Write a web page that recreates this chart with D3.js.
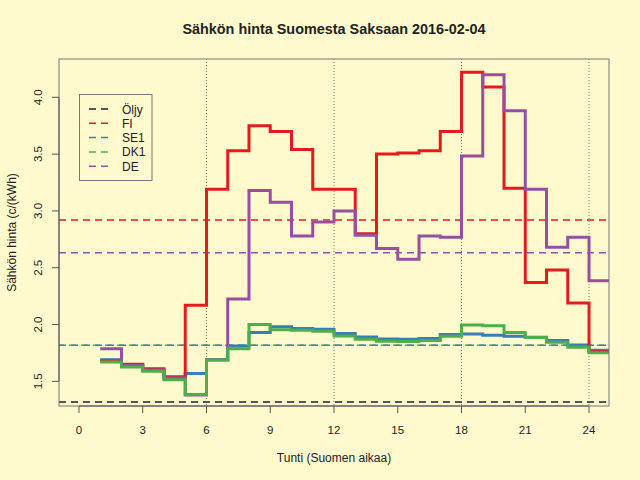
<!DOCTYPE html>
<html>
<head>
<meta charset="utf-8">
<script src="https://cdn.jsdelivr.net/npm/d3@7"></script>
<style>
  body { margin: 0; background: #FFFACD; }
  text { font-family: "Liberation Sans", Arial, sans-serif; fill: #222; }
</style>
</head>
<body>
<svg id="chart" width="640" height="480"></svg>
<script>
// hours 1..24, last value is repeated to hour 25 so the final step reaches the edge
const hours = d3.range(1, 26);
const fi  = [1.68, 1.65, 1.61, 1.54, 2.17, 3.19, 3.53, 3.75, 3.70, 3.54, 3.19, 3.19,
             2.80, 3.50, 3.51, 3.53, 3.70, 4.22, 4.09, 3.20, 2.37, 2.48, 2.19, 1.76];
const se1 = [1.69, 1.64, 1.60, 1.53, 1.57, 1.69, 1.81, 1.93, 1.98, 1.965, 1.958, 1.92,
             1.89, 1.872, 1.87, 1.878, 1.913, 1.916, 1.905, 1.896, 1.887, 1.86, 1.82, 1.773];
const dk1 = [1.67, 1.626, 1.588, 1.514, 1.385, 1.687, 1.787, 2.00, 1.955, 1.95, 1.94, 1.90,
             1.87, 1.852, 1.85, 1.86, 1.896, 1.995, 1.99, 1.93, 1.885, 1.843, 1.80, 1.752];
const de  = [1.787, 1.64, 1.60, 1.53, 1.38, 1.69, 2.224, 3.18, 3.076, 2.779, 2.902, 3.00,
             2.785, 2.67, 2.574, 2.779, 2.768, 3.483, 4.199, 3.882, 3.19, 2.68, 2.768, 2.385];

// daily averages (dashed lines) and oil reference
const avgNames  = ["Öljy", "FI", "SE1", "DK1", "DE"];
const avgValues = [1.318, 2.92, 1.817, 1.817, 2.632];
const colors    = ["#555555", "#E41A1C", "#377EB8", "#4DAF4A", "#984EA3"];

const xTicks = d3.range(0, 25, 3);
const yTicks = [1.5, 2.0, 2.5, 3.0, 3.5, 4.0];
const vLines = [6, 12, 18, 24];

const svg = d3.select("#chart");
const pLeft = 59, pRight = 609, pTop = 59, pBottom = 406;

const x = d3.scaleLinear().domain([-0.94, 24.94]).range([pLeft, pRight]);
const y = d3.scaleLinear().domain([1.283, 4.337]).range([pBottom, pTop]);

svg.append("defs").append("clipPath").attr("id", "clip")
  .append("rect").attr("x", pLeft).attr("y", pTop)
  .attr("width", pRight - pLeft).attr("height", pBottom - pTop);

//title
svg.append("text")
  .attr("x", (pLeft + pRight) / 2).attr("y", 34)
  .attr("text-anchor", "middle")
  .style("font-size", "14.4px").style("font-weight", "bold")
  .text("Sähkön hinta Suomesta Saksaan 2016-02-04");

const plot = svg.append("g").attr("clip-path", "url(#clip)");

//vertical dotted guides
plot.selectAll(".vline").data(vLines).join("line")
  .attr("x1", d => x(d)).attr("x2", d => x(d))
  .attr("y1", pTop).attr("y2", pBottom)
  .attr("stroke", "#555").attr("stroke-width", 0.8)
  .attr("stroke-dasharray", "1,2");

//average lines (DK1 under SE1, shifted a bit so both colours show)
[0, 1, 3, 2, 4].forEach(i => {
  plot.append("line")
    .attr("x1", pLeft).attr("x2", pRight)
    .attr("y1", y(avgValues[i])).attr("y2", y(avgValues[i]))
    .attr("stroke", colors[i])
    .attr("stroke-width", i === 0 ? 2 : 1.5)
    .attr("stroke-dasharray", "7,5")
    .attr("stroke-dashoffset", i === 3 ? 2 : 0);
});

//step lines
const line = d3.line()
  .x(d => x(d[0]))
  .y(d => y(d[1]))
  .curve(d3.curveStepAfter);

const series = [
  { values: se1, color: colors[2] },
  { values: fi,  color: colors[1] },
  { values: de,  color: colors[4] },
  { values: dk1, color: colors[3] }
];

series.forEach(s => {
  const pts = hours.map((h, i) => [h, s.values[Math.min(i, s.values.length - 1)]]);
  plot.append("path")
    .datum(pts)
    .attr("fill", "none")
    .attr("stroke", s.color)
    .attr("stroke-width", 3)
    .attr("d", line);
});

//box
svg.append("rect")
  .attr("x", pLeft).attr("y", pTop)
  .attr("width", pRight - pLeft).attr("height", pBottom - pTop)
  .attr("fill", "none").attr("stroke", "#777").attr("stroke-width", 1);

//x axis
const xg = svg.append("g").attr("transform", `translate(0,${pBottom})`);
xg.append("line").attr("x1", x(0)).attr("x2", x(24))
  .attr("stroke", "#555");
xg.selectAll(".xt").data(xTicks).join("line")
  .attr("x1", d => x(d)).attr("x2", d => x(d))
  .attr("y1", 0).attr("y2", 7).attr("stroke", "#555");
xg.selectAll(".xl").data(xTicks).join("text")
  .attr("x", d => x(d)).attr("y", 28)
  .attr("text-anchor", "middle")
  .style("font-size", "11.5px")
  .text(d => d);

svg.append("text")
  .attr("x", (pLeft + pRight) / 2).attr("y", 462)
  .attr("text-anchor", "middle")
  .style("font-size", "12px")
  .text("Tunti (Suomen aikaa)");

//y axis
const yg = svg.append("g").attr("transform", `translate(${pLeft},0)`);
yg.append("line").attr("y1", y(1.5)).attr("y2", y(4.0))
  .attr("stroke", "#555");
yg.selectAll(".yt").data(yTicks).join("line")
  .attr("x1", 0).attr("x2", -7)
  .attr("y1", d => y(d)).attr("y2", d => y(d)).attr("stroke", "#555");
yg.selectAll(".yl").data(yTicks).join("text")
  .attr("transform", d => `translate(-17,${y(d)}) rotate(-90)`)
  .attr("text-anchor", "middle")
  .style("font-size", "11.5px")
  .text(d => d.toFixed(1));

svg.append("text")
  .attr("transform", `translate(16,${(pTop + pBottom) / 2}) rotate(-90)`)
  .attr("text-anchor", "middle")
  .style("font-size", "12px")
  .text("Sähkön hinta (c/(kWh)");

//legend
const lg = svg.append("g");
lg.append("rect")
  .attr("x", 79.5).attr("y", 94.5).attr("width", 72.5).attr("height", 86)
  .attr("fill", "#FFFACD").attr("stroke", "#777");
avgNames.forEach((n, i) => {
  const yy = 109 + i * 14.3;
  lg.append("line")
    .attr("x1", 89).attr("x2", 110).attr("y1", yy).attr("y2", yy)
    .attr("stroke", colors[i]).attr("stroke-width", i === 0 ? 2 : 1.5)
    .attr("stroke-dasharray", "7,5");
  lg.append("text")
    .attr("x", 122).attr("y", yy + 4.5)
    .style("font-size", "12px")
    .text(n);
});
</script>
</body>
</html>
